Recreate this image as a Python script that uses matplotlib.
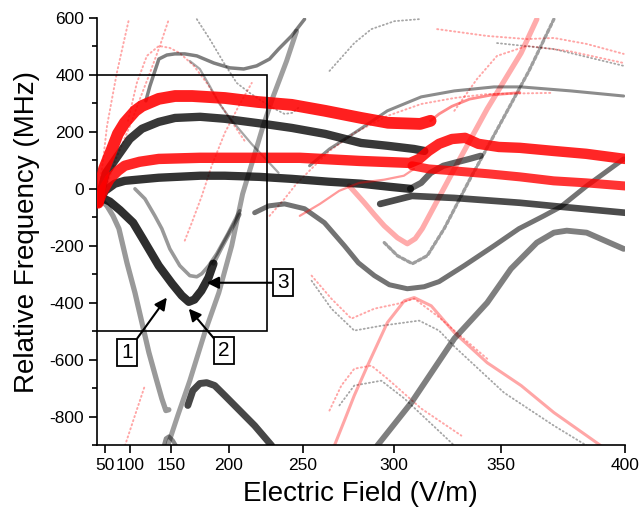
import numpy as np
import matplotlib
matplotlib.use('Agg')
import matplotlib.pyplot as plt
from matplotlib.ticker import MultipleLocator, NullLocator

plt.rcParams['font.family'] = ['Liberation Sans', 'DejaVu Sans']

# ---------------- axis data ----------------
x_ticks = [50, 100, 150, 200, 250, 300, 350, 400]
x_tick_labels = ['50', '100', '150', '200', '250', '300', '350', '400']
y_ticks = [-800, -600, -400, -200, 0, 200, 400, 600]
y_tick_labels = ['-800', '-600', '-400', '-200', '0', '200', '400', '600']
x_range = [0, 400]
y_range = [-900, 600]

# highlighted region and labels
box_E = [0, 227]
box_f = [-500, 400]
label_texts = ['1', '2', '3']
label_E = [95.7, 196.5, 237.5]
label_f = [-575, -568, -330]
arrow_E = [145.7, 167.0, 182.5]
arrow_f = [-382, -421, -330]

# ---------------- thick red bands ----------------
r1_E = [20, 32, 47, 68, 80, 92, 108, 117, 137, 154, 170, 197, 221, 243, 263, 283, 297, 313, 318]
r1_f = [-49, 10, 70, 140, 193, 232, 274, 291, 316, 326, 326, 319, 305, 295, 274, 249, 232, 228, 239]
r1_tail_E = [318, 322, 328, 336, 346, 358]
r1_tail_f = [239, 263, 290, 315, 330, 338]

r2_E = [20, 44, 63, 80, 92, 114, 137, 177, 222, 248, 282, 308, 312.5, 317, 322, 328, 334, 340, 349, 358, 372, 385, 400]
r2_f = [-49, -7, 35, 63, 81, 95, 105, 109, 109, 109, 98, 91, 105, 133, 158, 175, 179, 158, 147, 144, 133, 123, 105]

r3_E = [309, 317, 329, 344, 358, 372, 385, 400]
r3_f = [81, 70, 63, 53, 42, 28, 21, 10]
r3_lead_E = [248, 260, 271, 282, 295, 305, 310]
r3_lead_f = [-95, -53, -7, 21, 32, 46, 70]

# ---------------- thick black bands ----------------
k1_E = [20, 36, 53, 80, 100, 117, 137, 154, 177, 197, 225, 243, 263, 283, 297, 310, 315]
k1_f = [-49, -7, 56, 116, 175, 211, 235, 249, 253, 246, 228, 214, 193, 161, 151, 140, 133]

k2_E = [20, 50, 74, 92, 137, 177, 197, 222, 243, 265, 283, 298, 308]
k2_f = [-49, -7, 18, 28, 39, 46, 46, 42, 35, 25, 18, 7, 0]
k2s_E = [308, 313.5, 318, 324, 329, 336, 341]
k2s_f = [0, 21, 56, 81, 91, 105, 116]

k2b_E = [293, 309, 329, 358, 375, 400]
k2b_f = [-53, -25, -32, -49, -63, -84]

k3_E = [20, 47, 63, 84, 105, 118, 137, 151, 160.5, 167, 172, 178, 184, 188]
k3_f = [-49, -35, -45, -75, -119, -175, -270, -333, -375, -397, -389, -358, -312, -263]

k4_E = [166.1, 170.6, 176.7, 182.5, 189, 196.9, 208.1, 218.7, 230.2]
k4_f = [-761, -709, -684, -681, -691, -726, -779, -832, -902]

# ---------------- grey curves ----------------
g1_E = [218.7, 228.2, 238.5, 250.9, 262.6, 273.9, 281.5, 290, 297.7, 306.7, 314.9, 322, 333.6, 346.9, 357.6, 368, 374.9, 385.2, 399.5]
g1_f = [-84, -60, -53, -70, -119, -200, -260, -305, -337, -351, -344, -326, -270, -200, -140, -95, -63, 10, 105]

g2_E = [291.5, 308.7, 329.1, 343.9, 354.2, 365.1, 372.1, 377.3, 385.2, 399.5]
g2_f = [-902, -751, -526, -400, -281, -189, -154, -147, -154, -211]

g3l_E = [31.6, 55.8, 70.2, 82, 95.7, 107.6, 117, 125.7, 133.8, 140.4, 144.7, 147.8]
g3l_f = [-35, -60, -95, -140, -260, -365, -470, -575, -663, -737, -779, -776]

g3r_E = [146.7, 156.7, 167.9, 180.9, 192.3, 202.2, 210.2, 217.3, 224.1, 230.8, 239.8, 246]
g3r_f = [-902, -796, -674, -505, -365, -200, -18, 98, 214, 319, 449, 554]

g4_E = [142.6, 144.7, 147.8, 151.8, 154.8]
g4_f = [-902, -877, -870, -884, -902]

c3_E = [107.6, 120.8, 132.7, 140.4, 148.8, 158.6, 167.9, 174.1, 178.4, 184.2, 190.7, 199.3, 208.1]
c3_f = [0, -35, -95, -140, -211, -270, -305, -309, -298, -270, -228, -158, -77]

k3c_E = [188, 194.7, 202.2, 208]
k3c_f = [-263, -204, -140, -90]

gtop_E = [122, 126.9, 137.2, 145.7, 153.8, 163.3, 174.1, 188.3, 200.7, 211, 220.1, 228.8, 234.7, 242.9, 250.9]
gtop_f = [309, 361, 456, 470, 474, 474, 467, 442, 425, 421, 432, 456, 491, 537, 596]

gdesc_E = [167.9, 176.7, 185, 192.3, 200.7, 207.4, 216.5, 225.5, 234.7]
gdesc_f = [449, 421, 361, 302, 249, 211, 158, 109, 56]

gmid_E = [253.9, 265.5, 279.3, 296.7, 313.5, 329.1, 346.9, 358.5, 378.9, 399.5]
gmid_f = [81, 140, 196, 274, 323, 344, 358, 358, 344, 326]

gdiag_E = [295.1, 301.8, 309.2, 316.4, 324.4, 335.8, 349.1, 361.8, 372.1]
gdiag_f = [-189, -235, -263, -235, -140, 28, 221, 414, 596]

# ---------------- faint thin lines ----------------
t1_E = [228.8, 238.5, 246, 256.8, 265.5, 279.3, 296.7, 313.5, 329.1, 343.9, 370.9]
t1_f = [-95, -35, 18, 81, 133, 196, 256, 298, 319, 333, 337]

t2_E = [26.4, 43.6, 55.8, 68, 78, 89, 98.8]
t2_f = [-7, 98, 221, 316, 407, 502, 596]

t3_E = [50, 74.4, 100.3, 114.4, 126.9, 138.3, 147.8]
t3_f = [-7, 98, 221, 316, 407, 502, 596]

t4_E = [97.3, 110.2, 123.2, 137.2, 148.8, 158.6, 171.5, 182.5, 190.7, 200.7, 211.7]
t4_f = [239, 372, 467, 502, 495, 477, 432, 372, 316, 246, 168]

t5_E = [174.1, 185, 196.3, 205.9, 215.2, 223.4, 232.1, 238.5, 243.5, 247.8]
t5_f = [596, 526, 442, 372, 337, 309, 281, 263, 267, 288]

t7_E = [265.5, 279.3, 288.4, 300.3, 312.5]
t7_f = [414, 512, 561, 589, 596]

t8_E = [321.1, 343.9, 361, 372.1, 385.2, 399.5]
t8_f = [561, 537, 526, 530, 509, 474]

t9_E = [348.2, 372.1, 399.5]
t9_f = [512, 491, 432]

t10_E = [329.1, 339.4, 348.2, 361, 378.1, 399.5]
t10_f = [274, 386, 467, 502, 484, 442]

t12_E = [276.6, 284.7, 290, 295.1, 301.8, 306.7, 310.6, 314, 329.1, 343.9, 358.5, 365.1]
t12_f = [10, -49, -91, -130, -172, -193, -175, -140, 70, 281, 477, 596]

t13_E = [163.3, 169.7, 178.4, 186.6, 196.9, 207.4, 216.7]
t13_f = [-182, -119, -25, 81, 196, 291, 372]

l1_E = [268.3, 273.9, 279.3, 286.4, 296.7, 305.3, 310.1, 318.3, 329.1, 343.9, 358.5, 372.1, 385.2, 390.7]
l1_f = [-902, -814, -726, -621, -470, -393, -382, -411, -505, -611, -691, -786, -867, -902]

l2_E = [255.1, 266.6, 277.7, 290, 301.8, 310.1, 321.1, 343.9]
l2_f = [-305, -386, -456, -421, -404, -386, -446, -597]

l3_E = [255.1, 266.6, 279.3, 293.6, 312.5, 322, 329.1, 351.2, 372.1, 385.2]
l3_f = [-323, -421, -498, -481, -463, -498, -554, -716, -832, -902]

l4_E = [265.5, 272.2, 279.3, 288.4, 296.7, 313.5, 332.3]
l4_f = [-779, -691, -632, -621, -667, -772, -867]

l5_E = [271.1, 279.3, 293.6, 305.3, 329.1]
l5_f = [-761, -691, -674, -737, -902]

l6_E = [92.5, 107.6, 120.8]
l6_f = [-902, -796, -691]

# ---------------- figure ----------------
fig = plt.figure(figsize=(6.44, 5.15), dpi=100)
ax = fig.add_axes([0.1502, 0.1359, 0.8203, 0.8291])

ax.set_xscale('function', functions=(lambda x: np.square(x),
                                     lambda x: np.sqrt(np.clip(x, 0, None))))
ax.set_xlim(*x_range)
ax.set_ylim(*y_range)

RED = '#ff0000'
BLK = '#000000'


def draw(E, f, color, lw, alpha, ls='-', z=2):
    ax.plot(E, f, color=color, lw=lw, alpha=alpha, ls=ls, zorder=z,
            solid_capstyle='round', solid_joinstyle='round',
            dash_capstyle='round')


DOT = (0, (0.6, 1.6))

# faint thin lines
for E, f in [(t2_E, t2_f), (t3_E, t3_f), (t4_E, t4_f), (t8_E, t8_f),
             (t10_E, t10_f), (t13_E, t13_f), (t1_E, t1_f), (l2_E, l2_f),
             (l4_E, l4_f), (l6_E, l6_f)]:
    draw(E, f, RED, 1.4, 0.35, DOT, 1)
for E, f in [(t5_E, t5_f), (t7_E, t7_f), (t9_E, t9_f), (l3_E, l3_f),
             (l5_E, l5_f)]:
    draw(E, f, BLK, 1.3, 0.35, DOT, 1)

draw(l1_E, l1_f, RED, 2.2, 0.35, '-', 1)
draw(t12_E, t12_f, RED, 3.8, 0.33, '-', 1)
draw(gdiag_E, gdiag_f, BLK, 2.4, 0.38, (0, (1, 0.8)), 1)

# grey medium curves
draw(g1_E, g1_f, BLK, 3.6, 0.55)
draw(g2_E, g2_f, BLK, 4.2, 0.5)
draw(g3l_E, g3l_f, BLK, 3.8, 0.4)
draw(g3r_E, g3r_f, BLK, 3.6, 0.38)
draw(g4_E, g4_f, BLK, 3.0, 0.45)
draw(c3_E, c3_f, BLK, 2.6, 0.4)
draw(k3c_E, k3c_f, BLK, 3.0, 0.4)
draw(gtop_E, gtop_f, BLK, 2.5, 0.5)
draw(gdesc_E, gdesc_f, BLK, 1.6, 0.35)
draw(gmid_E, gmid_f, BLK, 2.2, 0.45)

# thick black bands
draw(k4_E, k4_f, BLK, 5.0, 0.72, z=3)
draw(k3_E, k3_f, BLK, 6.0, 0.82, z=3)
draw(k2b_E, k2b_f, BLK, 4.8, 0.7, z=3)
draw(k2_E, k2_f, BLK, 6.0, 0.8, z=3)
draw(k2s_E, k2s_f, BLK, 4.5, 0.6, z=3)
draw(k1_E, k1_f, BLK, 6.0, 0.78, z=3)

# thick red bands
draw(r3_lead_E, r3_lead_f, RED, 1.6, 0.4, '-', 4)
draw(r3_E, r3_f, RED, 6.5, 0.8, z=4)
draw(r2_E, r2_f, RED, 7.5, 0.85, z=4)
draw(r1_tail_E, r1_tail_f, RED, 2.0, 0.45, z=4)
draw(r1_E, r1_f, RED, 8.5, 0.88, z=4)

# rectangle
ax.plot([box_E[0], box_E[1], box_E[1], box_E[0]],
        [box_f[1], box_f[1], box_f[0], box_f[0]],
        color='black', lw=1.2, zorder=5, solid_joinstyle='miter')

# numbered labels with arrows
for txt, xe, yf, ae, af in zip(label_texts, label_E, label_f, arrow_E, arrow_f):
    ax.annotate(txt, xy=(ae, af), xytext=(xe, yf), fontsize=15,
                ha='center', va='center', zorder=6,
                bbox=dict(boxstyle='square,pad=0.2', fc='white', ec='black', lw=1.3),
                arrowprops=dict(arrowstyle='-|>', color='black', lw=1.5,
                                mutation_scale=18, shrinkA=0, shrinkB=0))

# axes styling
for s in ['top', 'right']:
    ax.spines[s].set_visible(False)
for s in ['left', 'bottom']:
    ax.spines[s].set_linewidth(1.2)

ax.set_xticks(x_ticks)
ax.set_xticklabels(x_tick_labels)
ax.xaxis.set_minor_locator(NullLocator())
ax.set_yticks(y_ticks)
ax.set_yticklabels(y_tick_labels)
ax.yaxis.set_minor_locator(MultipleLocator(100))
ax.tick_params(which='major', direction='out', length=6, width=1.2,
               labelsize=12.5, pad=3)
ax.tick_params(which='minor', direction='out', length=3.5, width=1.2)

ax.set_xlabel('Electric Field (V/m)', fontsize=20, labelpad=6)
ax.set_ylabel('Relative Frequency (MHz)', fontsize=20, labelpad=7)

fig.savefig('out.png', dpi=100)
